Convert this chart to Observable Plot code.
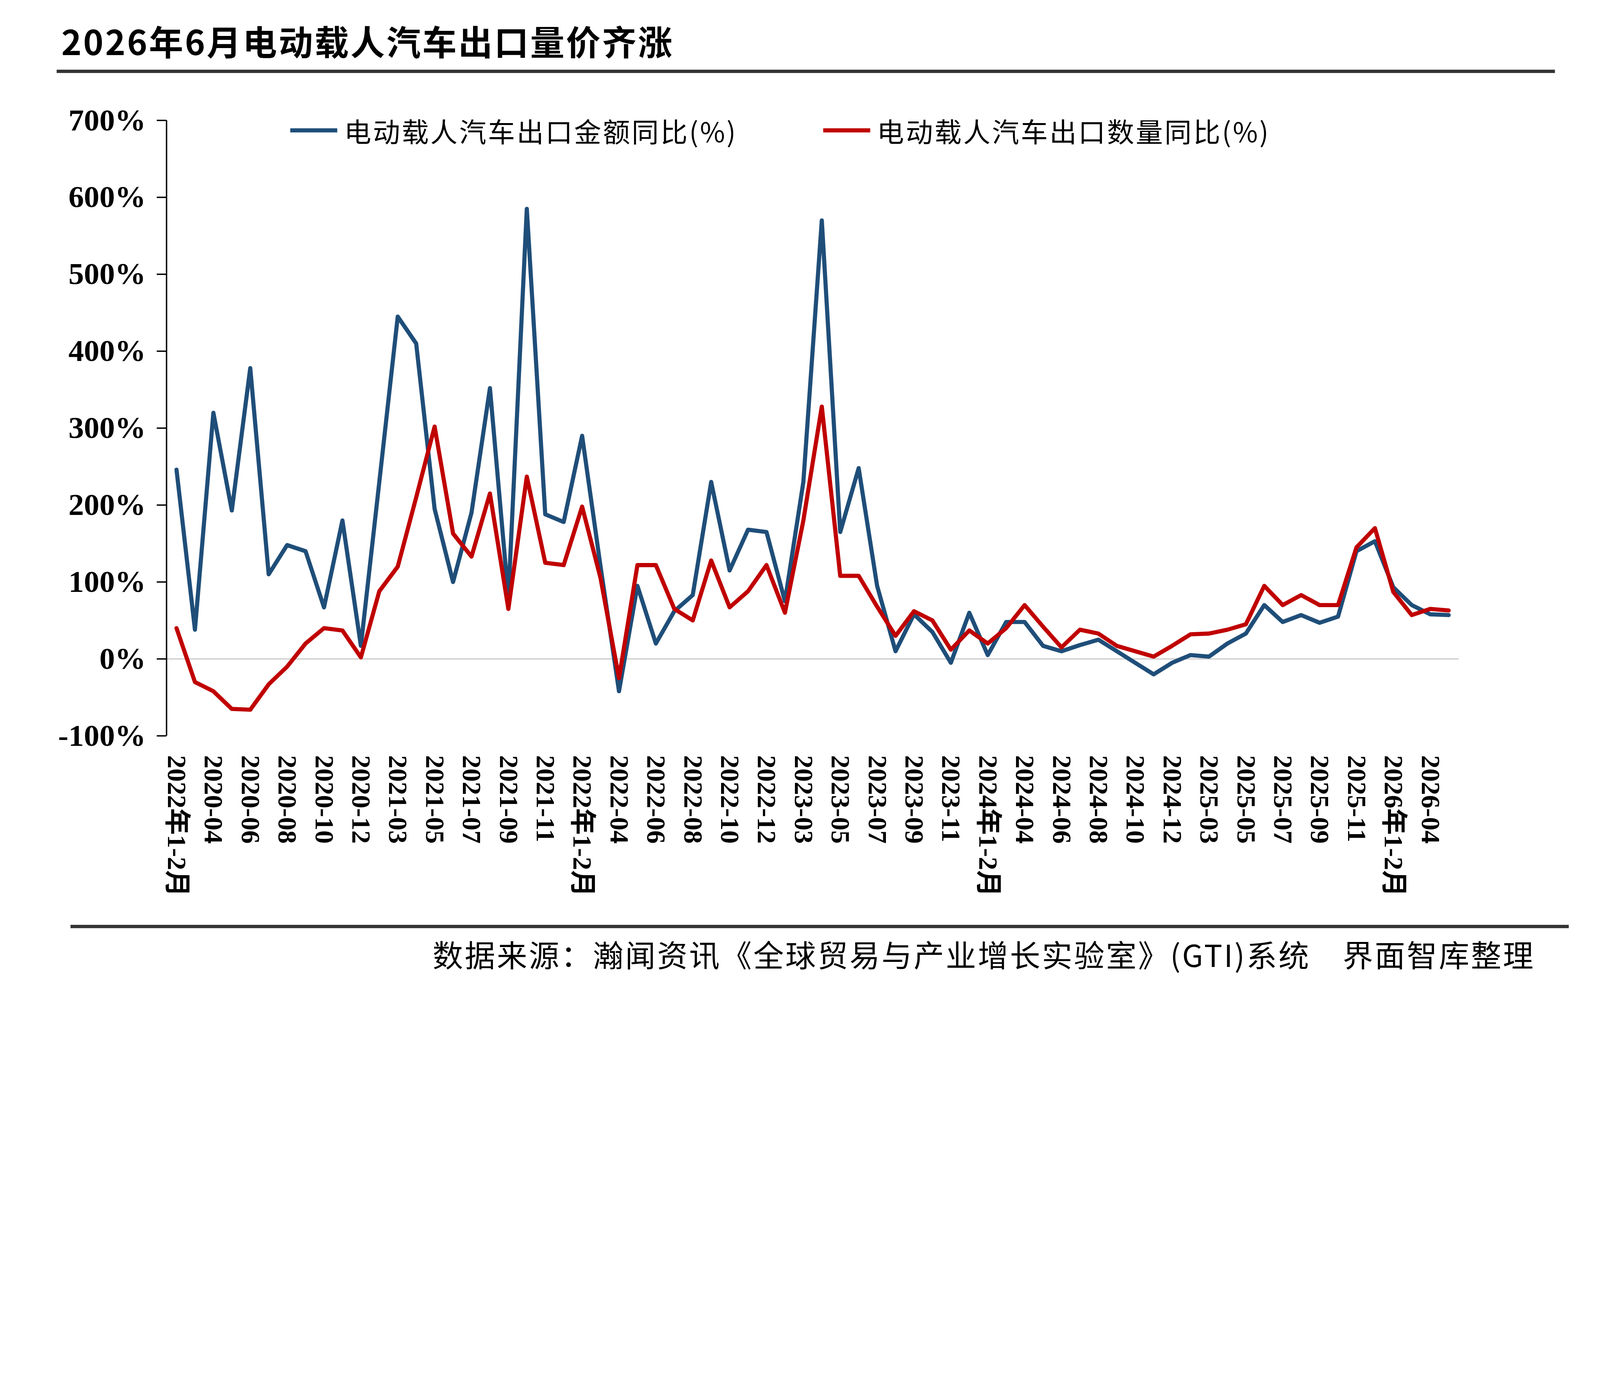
<!DOCTYPE html>
<html><head><meta charset="utf-8">
<script src="https://cdn.jsdelivr.net/npm/d3@7"></script>
<script src="https://cdn.jsdelivr.net/npm/@observablehq/plot@0.6"></script>
<style>
html,body{margin:0;background:#fff;overflow:hidden;}
#wrap{position:relative;overflow:hidden;}
#page{width:5788px;height:3568px;position:absolute;left:0;top:0;transform-origin:0 0;font-family:"Noto Sans CJK SC";background:#fff;}
.abs{position:absolute;}
</style></head><body>
<div id="wrap"><div id="page">
<div class="abs" style="left:222px;top:55px;font-size:124px;font-weight:bold;color:#000;letter-spacing:6px;">2026年6月电动载人汽车出口量价齐涨</div>
<div class="abs" style="left:205px;top:252px;width:5420px;height:12px;background:#333;"></div>
<div class="abs" style="left:255px;top:3345px;width:5420px;height:12px;background:#333;"></div>
<div class="abs" style="right:235px;top:3370px;font-size:110px;color:#000;letter-spacing:6px;">数据来源：瀚闻资讯《全球贸易与产业增长实验室》(GTI)系统　界面智库整理</div>
<div class="abs" style="left:1050px;top:400px;font-size:98px;display:flex;align-items:center;white-space:nowrap;letter-spacing:6px;">
 <span style="display:inline-block;width:170px;height:15px;background:#1f4e79;margin-right:25px;"></span>电动载人汽车出口金额同比(%)
 <span style="display:inline-block;width:170px;height:15px;background:#c00000;margin:0 25px 0 310px;"></span>电动载人汽车出口数量同比(%)
</div>
<div id="chart" class="abs" style="left:0;top:0;"></div>
</div></div>
<script>
const months = ["2022年1-2月","2020-03","2020-04","2020-05","2020-06","2020-07","2020-08","2020-09","2020-10","2020-11","2020-12",
"2021年1-2月","2021-03","2021-04","2021-05","2021-06","2021-07","2021-08","2021-09","2021-10","2021-11","2021-12",
"2022年1-2月","2022-03","2022-04","2022-05","2022-06","2022-07","2022-08","2022-09","2022-10","2022-11","2022-12",
"2023年1-2月","2023-03","2023-04","2023-05","2023-06","2023-07","2023-08","2023-09","2023-10","2023-11","2023-12",
"2024年1-2月","2024-03","2024-04","2024-05","2024-06","2024-07","2024-08","2024-09","2024-10","2024-11","2024-12",
"2025年1-2月","2025-03","2025-04","2025-05","2025-06","2025-07","2025-08","2025-09","2025-10","2025-11","2025-12",
"2026年1-2月","2026-03","2026-04","2026-05"];
const valueYoY = [246,38,320,193,378,110,148,140,67,180,17,230,445,410,195,100,190,352,80,585,188,178,290,120,-42,95,20,62,83,230,115,168,165,75,230,570,165,248,95,10,58,35,-5,60,5,48,48,17,10,18,25,10,-5,-20,-5,5,3,20,33,70,48,57,47,55,140,153,93,70,58,57];
const qtyYoY = [40,-30,-42,-65,-66,-33,-10,20,40,37,2,88,120,210,302,163,133,215,65,237,125,122,198,105,-25,122,122,65,50,128,67,88,122,60,180,328,108,108,68,30,62,50,12,37,20,40,70,42,15,38,33,17,10,3,17,32,33,38,45,95,70,83,70,70,145,170,87,57,65,63];
const yTicks = [-100,0,100,200,300,400,500,600,700];
const idx = months.map((d,i)=>i);
const tickIdx = idx.filter(i=>i%2===0);
const rows = idx.map(i=>({i,v:valueYoY[i],q:qtyYoY[i]}));
const chart = Plot.plot({
  width:5788, height:3300,
  marginTop:435, marginLeft:638, marginRight:548, marginBottom:639,
  x:{type:"point", domain:idx, padding:0},
  y:{domain:[-100,700]},
  style:{fontFamily:"Liberation Serif, Noto Sans CJK SC", fontWeight:"bold", color:"#000", background:"transparent", maxWidth:"none"},
  marks:[
    Plot.ruleY([0],{stroke:"#d0d0d0",strokeWidth:5,insetLeft:-36,insetRight:-37}),
    Plot.ruleX([0],{y1:-100,y2:700,stroke:"#000",strokeWidth:5,dx:-36}),
    Plot.axisY({ticks:yTicks, tickFormat:d=>d+"%", fontSize:112, tickSize:35, tickPadding:40, anchor:"left", stroke:"#000", strokeWidth:5, dx:-36}),
    Plot.axisX({ticks:tickIdx, tickFormat:i=>months[i], fontSize:96, tickSize:0, tickPadding:70, tickRotate:90, textAnchor:"start", label:null}),
    Plot.line(rows,{x:"i",y:"v",stroke:"#1f4e79",strokeWidth:15}),
    Plot.line(rows,{x:"i",y:"q",stroke:"#c00000",strokeWidth:15})
  ]
});
document.getElementById("chart").appendChild(chart);
function fit(){
  const s=window.innerWidth/5788;
  document.getElementById("page").style.transform="scale("+s+")";
  const w=document.getElementById("wrap");
  w.style.width=window.innerWidth+"px"; w.style.height=Math.round(3568*s)+"px";
  document.body.style.height=Math.round(3568*s)+"px";
  document.documentElement.style.height=Math.round(3568*s)+"px";
}
fit(); window.addEventListener("resize",fit);
</script></body></html>
